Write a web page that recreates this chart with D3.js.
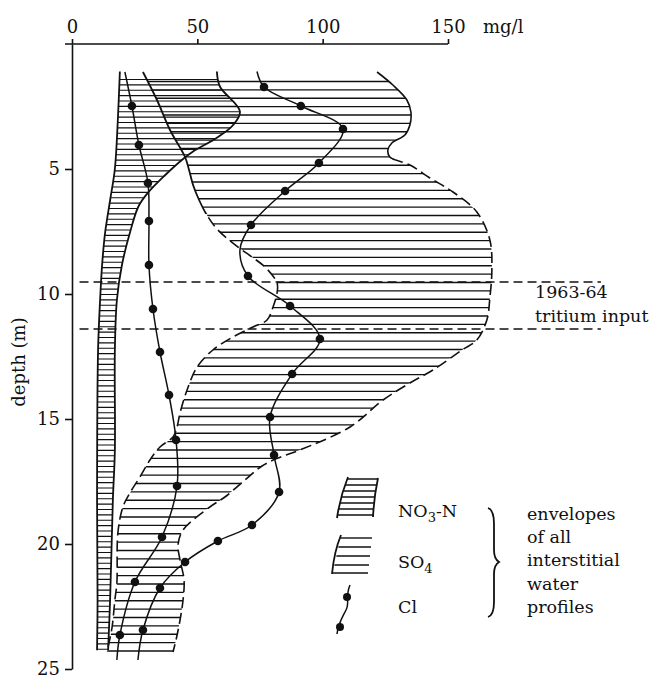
<!DOCTYPE html>
<html>
<head>
<meta charset="utf-8">
<script src="https://cdn.jsdelivr.net/npm/d3@7/dist/d3.min.js"></script>
<style>
body { margin: 0; background: #fff; }
text { font-family: "DejaVu Serif", serif; fill: #111; }
</style>
</head>
<body>
<svg id="chart" width="655" height="678"></svg>
<script>
// axis ticks
var concTicks = [0, 50, 100, 150];          // mg/l
var depthTicks = [5, 10, 15, 20, 25];       // m

// NO3-N envelope, [depth (m), mg/l]
var no3Left = [[1.1, 19.1], [3.0, 18.3], [5.0, 17.1], [6.25, 15.2], [7.55, 13.2], [8.85, 12.0],
    [10.25, 11.2], [12.25, 10.4], [18.25, 10.0], [22.25, 10.2], [24.25, 10.0]];
var no3Right = [[1.1, 57.8], [1.7, 59.0], [2.7, 67.0], [3.25, 64.2], [3.75, 57.8], [4.3, 48.3],
    [4.6, 44.3], [5.25, 37.1], [5.95, 30.3], [6.5, 26.5], [7.55, 23.1], [8.85, 19.9], [10.25, 17.9],
    [12.25, 17.1], [16.25, 17.1], [18.25, 16.3], [22.25, 15.2], [24.25, 14.4]];

// SO4 envelope
var so4Left = [[1.12, 28.3], [2.24, 33.9], [3.44, 39.1], [4.52, 45.1], [5.04, 46.7], [5.64, 48.3],
    [6.24, 50.7], [6.84, 53.8], [7.44, 58.2], [8.12, 66.2], [8.52, 71.8], [8.92, 77.0], [9.56, 81.8],
    [9.96, 81.8], [10.52, 80.2], [11.04, 77.8], [11.32, 72.2], [11.72, 64.2], [12.24, 56.2],
    [12.92, 49.9], [13.84, 45.9], [14.76, 43.1], [15.32, 41.9], [15.72, 40.3], [16.12, 35.1],
    [16.64, 31.1], [17.32, 27.1], [17.96, 23.1], [18.52, 20.3], [19.56, 18.3], [21.56, 17.9],
    [22.24, 17.1], [23.32, 16.0], [24.12, 14.4], [24.32, 14.0]];
var so4Right = [[1.12, 121.7], [1.64, 128.0], [2.24, 133.6], [2.72, 135.2], [3.24, 134.8],
    [3.64, 132.8], [3.96, 127.6], [4.24, 126.0], [4.52, 126.8], [4.84, 134.8], [5.36, 142.8],
    [5.92, 152.0], [6.72, 161.5], [7.84, 166.7], [9.04, 167.5], [10.16, 166.7], [11.04, 165.5],
    [11.84, 161.5], [12.24, 155.6], [13.04, 144.0], [13.56, 134.8], [14.24, 124.1], [15.32, 110.9],
    [16.24, 90.9], [16.56, 82.2], [16.88, 75.8], [17.44, 69.0], [18.12, 61.0], [18.52, 55.0],
    [19.44, 44.3], [20.04, 42.3], [20.64, 43.1], [21.44, 44.7], [22.24, 44.3], [23.04, 43.1],
    [23.84, 41.5], [24.32, 40.3]];

// Cl profiles, [depth (m), mg/l, 1 = sample point]
var cl1 = [[1.12, 21.1, 0], [2.48, 23.9, 1], [4.04, 26.7, 1], [5.56, 30.3, 1], [7.08, 30.7, 1],
    [8.84, 30.7, 1], [10.6, 32.3, 1], [12.32, 35.1, 1], [14.04, 38.7, 1], [15.84, 41.5, 1],
    [17.68, 41.9, 1], [19.72, 35.9, 1], [21.52, 25.1, 1], [23.64, 19.1, 1], [24.64, 17.9, 0]];
var cl2 = [[1.1, 73.8, 0], [1.72, 76.6, 1], [2.48, 91.3, 1], [3.4, 108.1, 1], [4.76, 98.5, 1],
    [5.88, 85.0, 1], [7.24, 71.4, 1], [8.24, 67.0, 0], [9.28, 70.2, 1], [10.48, 87.0, 1],
    [11.8, 98.9, 1], [13.2, 87.8, 1], [14.92, 79.0, 1], [16.44, 80.6, 1], [17.92, 82.6, 1],
    [19.24, 71.8, 1], [19.88, 58.2, 1], [20.72, 45.1, 1], [21.76, 35.1, 1], [23.44, 28.3, 1],
    [24.64, 26.3, 0]];

// 1963-64 tritium input band
var tritiumDepths = [9.52, 11.4];
var tritiumSpan = [3, 211];

var svg = d3.select('#chart');
var defs = svg.append("defs");
var ink = "#111";

var x = d3.scaleLinear().domain([0, 150]).range([72, 448]);
var y = d3.scaleLinear().domain([0, 25]).range([44, 669]);

var line = d3.line()
    .x(function (d) { return x(d[1]); })
    .y(function (d) { return y(d[0]); })
    .curve(d3.curveCatmullRom.alpha(0.5));

function envelopePath(left, right)
{
    var a = line(left);
    var b = line(right.slice().reverse());
    return a + "L" + b.slice(1) + "Z";
}

// horizontal hatching clipped to an envelope
function hatch(id, left, right, step, width)
{
    defs.append("clipPath").attr("id", id)
        .append("path").attr("d", envelopePath(left, right));
    var top = Math.min(left[0][0], right[0][0]);
    var bottom = Math.max(left[left.length - 1][0], right[right.length - 1][0]);
    svg.append("g")
        .attr("clip-path", "url(#" + id + ")")
        .selectAll("line")
        .data(d3.range(bottom - 0.04, top + 0.15, -step))
        .enter().append("line")
        .attr("x1", x(0)).attr("x2", x(200))
        .attr("y1", function (d) { return y(d); })
        .attr("y2", function (d) { return y(d); })
        .attr("stroke", ink)
        .attr("stroke-width", width);
}

hatch("so4clip", so4Left, so4Right, 0.335, 1.4);
hatch("no3clip", no3Left, no3Right, 0.215, 1.2);

// envelope boundaries
function clipBand(id, d0, d1)
{
    defs.append("clipPath").attr("id", id)
        .append("rect").attr("x", 0).attr("width", 655)
        .attr("y", y(d0)).attr("height", y(d1) - y(d0));
}
clipBand("so4LeftTop", 0, 6.8);
clipBand("so4LeftLow", 6.8, 26);
clipBand("so4RightTop", 0, 4.6);
clipBand("so4RightLow", 4.6, 26);

function boundary(data, clip, dash, width)
{
    svg.append("path")
        .attr("d", line(data))
        .attr("fill", "none")
        .attr("stroke", ink)
        .attr("stroke-width", width)
        .attr("stroke-dasharray", dash)
        .attr("clip-path", clip ? "url(#" + clip + ")" : null);
}
boundary(so4Left, "so4LeftTop", null, 1.8);
boundary(so4Left, "so4LeftLow", "11,5", 1.6);
boundary(so4Right, "so4RightTop", null, 1.6);
boundary(so4Right, "so4RightLow", "11,5", 1.6);
boundary(no3Left, null, null, 1.8);
boundary(no3Right, null, null, 1.8);

// tritium input lines
svg.selectAll(".tritium")
    .data(tritiumDepths)
    .enter().append("line")
    .attr("class", "tritium")
    .attr("x1", x(tritiumSpan[0])).attr("x2", x(tritiumSpan[1]))
    .attr("y1", function (d) { return y(d); })
    .attr("y2", function (d) { return y(d); })
    .attr("stroke", ink)
    .attr("stroke-width", 1.3)
    .attr("stroke-dasharray", "9,5");

svg.append("text").attr("x", 535).attr("y", 298).style("font-size", "17.5px").text("1963-64");
svg.append("text").attr("x", 535).attr("y", 322).style("font-size", "17.5px").text("tritium input");

// Cl profiles
[cl1, cl2].forEach(function (profile)
{
    svg.append("path")
        .attr("d", line(profile))
        .attr("fill", "none")
        .attr("stroke", ink)
        .attr("stroke-width", 1.5);
    svg.append("g").selectAll("circle")
        .data(profile.filter(function (d) { return d[2]; }))
        .enter().append("circle")
        .attr("cx", function (d) { return x(d[1]); })
        .attr("cy", function (d) { return y(d[0]); })
        .attr("r", 4.3)
        .attr("fill", ink);
});

// axes
var topAxis = svg.append("g")
    .attr("transform", "translate(0," + y(0) + ")")
    .call(d3.axisTop(x).tickValues(concTicks).tickSize(5).tickSizeOuter(0).tickPadding(6));
topAxis.select(".domain").attr("d", "M" + (x(0) - 7) + ",0H" + x(150));

var leftAxis = svg.append("g")
    .attr("transform", "translate(" + x(0) + ",0)")
    .call(d3.axisLeft(y).tickValues(depthTicks).tickSize(7).tickSizeOuter(0).tickPadding(5));

[topAxis, leftAxis].forEach(function (g)
{
    g.selectAll("path, line").attr("stroke", ink).attr("stroke-width", 1.6);
    g.selectAll("text").attr("fill", ink)
        .style("font-family", "'DejaVu Serif', serif").style("font-size", "18px");
});

svg.append("text").attr("x", 483).attr("y", 33).style("font-size", "18px").text("mg/l");
svg.append("text")
    .attr("transform", "translate(25,362) rotate(-90)")
    .attr("text-anchor", "middle")
    .style("font-size", "18px")
    .text("depth (m)");

// legend
var legend = svg.append("g");

defs.append("clipPath").attr("id", "legNo3")
    .append("path").attr("d", "M348,477 Q340,497 337,518 L373,517 Q374,497 378,478 Z");
legend.append("g").attr("clip-path", "url(#legNo3)")
    .selectAll("line").data(d3.range(479, 519, 6)).enter().append("line")
    .attr("x1", 330).attr("x2", 385)
    .attr("y1", function (d) { return d; }).attr("y2", function (d) { return d; })
    .attr("stroke", ink).attr("stroke-width", 1.3);
legend.append("path").attr("d", "M348,477 Q340,497 337,518").attr("fill", "none").attr("stroke", ink).attr("stroke-width", 1.8);
legend.append("path").attr("d", "M378,478 Q374,497 373,517").attr("fill", "none").attr("stroke", ink).attr("stroke-width", 1.8);

legend.append("path").attr("d", "M341,535 Q334,552 332,574").attr("fill", "none").attr("stroke", ink).attr("stroke-width", 1.8);
legend.selectAll(".legSo4").data([538, 547, 556, 565, 573]).enter().append("line")
    .attr("x1", function (d) { return 341 - (d - 535) * 0.22; })
    .attr("x2", function (d, i) { return 372 - i; })
    .attr("y1", function (d) { return d; }).attr("y2", function (d) { return d; })
    .attr("stroke", ink).attr("stroke-width", 1.4);

legend.append("path").attr("d", "M350,585 C345,596 350,603 346,610 C342,618 338,624 337,634")
    .attr("fill", "none").attr("stroke", ink).attr("stroke-width", 1.5);
legend.selectAll(".legCl").data([[347, 597], [340, 627]]).enter().append("circle")
    .attr("cx", function (d) { return d[0]; }).attr("cy", function (d) { return d[1]; })
    .attr("r", 4).attr("fill", ink);

var no3Label = legend.append("text").attr("x", 398).attr("y", 517).style("font-size", "17.5px");
no3Label.append("tspan").text("NO");
no3Label.append("tspan").attr("dy", 5).style("font-size", "13px").text("3");
no3Label.append("tspan").attr("dy", -5).text("-N");

var so4Label = legend.append("text").attr("x", 398).attr("y", 568).style("font-size", "17.5px");
so4Label.append("tspan").text("SO");
so4Label.append("tspan").attr("dy", 5).style("font-size", "13px").text("4");

legend.append("text").attr("x", 398).attr("y", 613).style("font-size", "17.5px").text("Cl");

legend.append("path")
    .attr("d", "M488,508 Q494,510 494,524 L494,550 Q494,559 499,562 Q494,565 494,574 L494,602 Q494,615 488,617")
    .attr("fill", "none").attr("stroke", ink).attr("stroke-width", 1.8);

legend.selectAll(".note")
    .data(["envelopes", "of all", "interstitial", "water", "profiles"])
    .enter().append("text")
    .attr("x", 527)
    .attr("y", function (d, i) { return 520 + i * 23.2; })
    .style("font-size", "17.5px")
    .text(function (d) { return d; });
</script>
</body>
</html>
